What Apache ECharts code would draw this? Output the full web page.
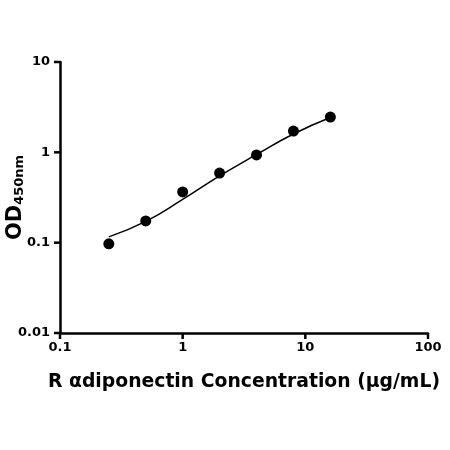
<!DOCTYPE html>
<html>
<head>
<meta charset="utf-8">
<script src="https://cdn.jsdelivr.net/npm/echarts@6/dist/echarts.min.js"></script>
<style>
  html, body { margin: 0; padding: 0; background: #fff; }
  #chart { width: 450px; height: 450px; }
</style>
</head>
<body>
<div id="chart"></div>
<script>
// measured points (concentration, OD)
var conc = [0.25, 0.5, 1, 2, 4, 8, 16];
var od = [0.097, 0.174, 0.364, 0.59, 0.935, 1.72, 2.46];
// fitted curve at the same concentrations
var fitY = [0.116, 0.172, 0.301, 0.548, 0.947, 1.597, 2.43];
// tick values
var xTicks = [0.1, 1, 10, 100];
var yTicks = [0.01, 0.1, 1, 10];

var font = 'DejaVu Sans';
var myChart = echarts.init(document.getElementById('chart'));
var option = {
  backgroundColor: '#fff',
  animation: false,
  grid: { left: 60, right: 22, top: 62, bottom: 117, outerBoundsMode: 'none', containLabel: false },
  xAxis: {
    type: 'log',
    logBase: 10,
    min: xTicks[0],
    max: xTicks[xTicks.length - 1],
    name: 'R \u03b1diponectin Concentration (\u00b5g/mL)',
    nameLocation: 'middle',
    nameGap: 40,
    nameMoveOverlap: false,
    nameTextStyle: { color: '#000', fontFamily: font, fontWeight: 'bold', fontSize: 18.8 },
    axisLine: { lineStyle: { color: '#000', width: 2.5 } },
    axisTick: { show: false },
    minorTick: { show: false },
    splitLine: { show: false },
    axisLabel: { color: '#000', fontFamily: font, fontWeight: 'bold', fontSize: 13, margin: 8 }
  },
  yAxis: {
    type: 'log',
    logBase: 10,
    min: yTicks[0],
    max: yTicks[yTicks.length - 1],
    name: '{a|OD}{b|450nm}',
    nameLocation: 'middle',
    nameRotate: 90,
    nameGap: 34,
    nameMoveOverlap: false,
    nameTextStyle: {
      rich: {
        a: { color: '#000', fontFamily: font, fontWeight: 'bold', fontSize: 21, verticalAlign: 'bottom' },
        b: { color: '#000', fontFamily: font, fontWeight: 'bold', fontSize: 13, verticalAlign: 'bottom' }
      }
    },
    axisLine: { show: true, lineStyle: { color: '#000', width: 2.5 } },
    axisTick: { show: false },
    splitLine: { show: false },
    axisLabel: { color: '#000', fontFamily: font, fontWeight: 'bold', fontSize: 13, margin: 10 }
  },
  series: [
    {
      type: 'line',
      smooth: true,
      symbol: 'none',
      lineStyle: { color: '#000', width: 1.5 },
      data: conc.map(function (x, i) { return [x, fitY[i]]; })
    },
    {
      type: 'scatter',
      symbol: 'circle',
      symbolSize: 11,
      itemStyle: { color: '#000', opacity: 1 },
      data: conc.map(function (x, i) { return [x, od[i]]; })
    }
  ]
};
myChart.setOption(option);

// tick marks placed through the axes' own scales
function drawTicks() {
  var els = [];
  xTicks.forEach(function (v) {
    var p = myChart.convertToPixel({ xAxisIndex: 0, yAxisIndex: 0 }, [v, yTicks[0]]);
    els.push({ type: 'line', shape: { x1: p[0], y1: p[1], x2: p[0], y2: p[1] + 6 },
      style: { stroke: '#000', lineWidth: 2.5 } });
  });
  yTicks.forEach(function (v) {
    var p = myChart.convertToPixel({ xAxisIndex: 0, yAxisIndex: 0 }, [xTicks[0], v]);
    els.push({ type: 'line', shape: { x1: p[0] - 6, y1: p[1], x2: p[0], y2: p[1] },
      style: { stroke: '#000', lineWidth: 2.5 } });
  });
  myChart.setOption({ graphic: els });
}
drawTicks();
</script>
</body>
</html>
